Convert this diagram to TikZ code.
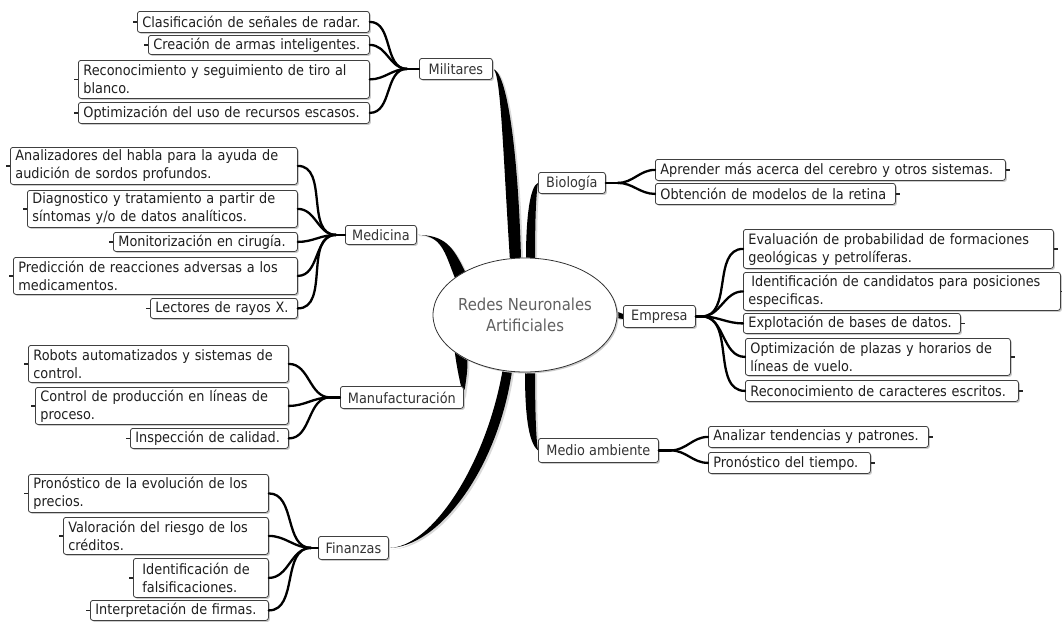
\documentclass[tikz,border=0pt]{standalone}
\usepackage{fontspec}
\setmainfont{DejaVu Sans}[FakeStretch=0.9]
\usetikzlibrary{shapes.geometric,calc,shadows,backgrounds}
\begin{document}
\begin{tikzpicture}[x=1pt,y=1pt,
  box/.style={draw=black!75, line width=0.8pt, rounded corners=2.5pt, fill=white,
    drop shadow={shadow xshift=1.5pt,shadow yshift=-1.5pt,fill=black!20,opacity=1},
    inner xsep=5pt, inner ysep=0pt, anchor=north west,
    font=\fontsize{14.3pt}{18pt}\selectfont},
  leaf/.style={box, align=left, text=black!88},
  cat/.style={box, align=center, text=black!80, inner xsep=2pt},
  branch/.style={line width=2.3pt, black, line cap=round},
  trunk/.style={fill=black, preaction={fill=black!15, transform canvas={xshift=2pt, yshift=-1.5pt}}},
  stub/.style={line width=1.4pt, black!85},
  hub/.style={ellipse, draw=black!80, line width=0.8pt, fill=white, inner sep=0pt,
    minimum width=184pt, minimum height=114pt,
    drop shadow={shadow xshift=1.5pt,shadow yshift=-1.5pt,fill=black!20,opacity=1}},
  hubtext/.style={align=center, text=black!62, font=\fontsize{16.5pt}{21pt}\selectfont},
]
\useasboundingbox (0,0) rectangle (1062,-621);

% central node
\node[hub] (ell) at (525,-315) {};
\node[hubtext] (elltext) at (ell.center) {Redes Neuronales\\Artificiales};

% ---- Militares ----
\node[cat, minimum width=73pt, minimum height=21pt] (mil) at (419,-58) {Militares};
\node[leaf, text width=222pt, minimum height=21pt] (clas) at (137,-11) {Clasificación de señales de radar.};
\node[leaf, text width=211pt, minimum height=19pt] (crea) at (148,-35) {Creación de armas inteligentes.};
\node[leaf, text width=281pt, minimum height=38pt] (reco) at (78,-60) {Reconocimiento y seguimiento de tiro al\\blanco.};
\node[leaf, text width=281pt, minimum height=21pt] (opti) at (78,-102) {Optimización del uso de recursos escasos.};

% ---- Medicina ----
\node[cat, minimum width=71pt, minimum height=19pt] (med) at (345,-225) {Medicina};
\node[leaf, text width=277pt, minimum height=37pt] (anal) at (10,-147) {Analizadores del habla para la ayuda de\\audición de sordos profundos.};
\node[leaf, text width=260pt, minimum height=37pt] (diag) at (27,-190) {Diagnostico y tratamiento a partir de\\síntomas y/o de datos analíticos.};
\node[leaf, text width=174pt, minimum height=19pt] (moni) at (113,-232) {Monitorización en cirugía.};
\node[leaf, text width=274pt, minimum height=37pt] (pred) at (13,-257) {Predicción de reacciones adversas a los\\medicamentos.};
\node[leaf, text width=137pt, minimum height=20pt] (lect) at (150,-298) {Lectores de rayos X.};

% ---- Manufacturacion ----
\node[cat, minimum width=123pt, minimum height=22pt] (manu) at (340,-386) {Manufacturación};
\node[leaf, text width=250pt, minimum height=37pt] (robo) at (28,-345) {Robots automatizados y sistemas de\\control.};
\node[leaf, text width=243pt, minimum height=37pt] (cont) at (35,-387) {Control de producción en líneas de\\proceso.};
\node[leaf, text width=148pt, minimum height=20pt] (insp) at (130,-428) {Inspección de calidad.};

% ---- Finanzas ----
\node[cat, minimum width=70pt, minimum height=23pt] (fin) at (318,-536) {Finanzas};
\node[leaf, text width=230pt, minimum height=38pt] (pron) at (28,-474) {Pronóstico de la evolución de los\\precios.};
\node[leaf, text width=195pt, minimum height=37pt] (valo) at (63,-517) {Valoración del riesgo de los\\créditos.};
\node[leaf, inner xsep=9pt, text width=117pt, minimum height=39pt] (iden) at (133,-558) {Identificación de\\falsificaciones.};
\node[leaf, text width=168pt, minimum height=20pt] (inte) at (90,-600) {Interpretación de firmas.};

% ---- Biologia ----
\node[cat, minimum width=67pt, minimum height=21pt] (bio) at (538,-172) {Biología};
\node[leaf, text width=340pt, minimum height=21pt] (apre) at (655,-159) {Aprender más acerca del cerebro y otros sistemas.};
\node[leaf, text width=230pt, minimum height=21pt] (obte) at (655,-183) {Obtención de modelos de la retina};

% ---- Empresa ----
\node[cat, minimum width=72pt, minimum height=22pt] (emp) at (623,-305) {Empresa};
\node[leaf, text width=300pt, minimum height=39pt] (eval) at (743,-229) {Evaluación de probabilidad de formaciones\\geológicas y petrolíferas.};
\node[leaf, text width=307pt, minimum height=38pt] (idca) at (743,-272) {\hspace*{3pt}Identificación de candidatos para posiciones\\especificas.};
\node[leaf, text width=207pt, minimum height=20pt] (expl) at (743,-313) {Explotación de bases de datos.};
\node[leaf, text width=255pt, minimum height=37pt] (opla) at (745,-338) {Optimización de plazas y horarios de\\líneas de vuelo.};
\node[leaf, text width=263pt, minimum height=21pt] (reca) at (745,-380) {Reconocimiento de caracteres escritos.};

% ---- Medio ambiente ----
\node[cat, minimum width=120pt, minimum height=24pt] (ma) at (538,-438) {Medio ambiente};
\node[leaf, text width=210pt, minimum height=21pt] (anali) at (708,-426) {Analizar tendencias y patrones.};
\node[leaf, text width=152pt, minimum height=21pt] (prti) at (708,-452) {Pronóstico del tiempo.};

% ---- trunks (behind nodes) ----
\begin{scope}[on background layer]
\fill[trunk] (mil.east) .. controls +(8,-1) and +(-7,108) .. (ell.105) -- (ell.94) .. controls +(-3,108) and +(14,-2) .. (mil.east) -- cycle;
\fill[trunk] (bio.west) .. controls +(-8,-3) and +(0,40) .. (ell.89) -- (ell.80) .. controls +(0,40) and +(-2,-12) .. (bio.west) -- cycle;
\fill[trunk] (med.east) .. controls +(25,0) and +(-10,25) .. (ell.152) -- (ell.144) .. controls +(-12,25) and +(28,0) .. (med.east) -- cycle;
\fill[trunk] (manu.east) .. controls +(-4,15) and +(2,-15) .. (ell.208) -- (ell.218) .. controls +(0,-15) and +(2,18) .. (manu.east) -- cycle;
\fill[trunk] (fin.east) .. controls +(48,0) and +(-15,-100) .. (ell.257) -- (ell.248) .. controls +(-17,-96) and +(42,0) .. (fin.east) -- cycle;
\fill[trunk] (ma.west) .. controls +(-10,8) and +(0,-40) .. (ell.270) -- (ell.280) .. controls +(0,-40) and +(-2,12) .. (ma.west) -- cycle;
\fill[trunk] (ell.2) -- ($(emp.west)+(0,2.5)$) -- ($(emp.west)+(0,-2.5)$) -- (ell.-2) -- cycle;
\end{scope}

% ---- junctions and branches ----
\coordinate (milj) at ($(mil.west)+(-12,0)$);
\coordinate (medj) at ($(med.west)+(-9,0)$);
\coordinate (manuj) at ($(manu.west)+(-10,0)$);
\coordinate (finj) at ($(fin.west)+(-7,0)$);
\coordinate (bioj) at ($(bio.east)+(12,0)$);
\coordinate (empj) at ($(emp.east)+(6,0)$);
\coordinate (maj) at ($(ma.east)+(12,0)$);

\draw[branch] (milj) -- (mil.west);
\foreach \n in {clas,crea,reco,opti} \draw[branch] (\n.east) to[out=0,in=180] (milj);
\draw[branch] (medj) -- (med.west);
\foreach \n in {anal,diag,moni,pred,lect} \draw[branch] (\n.east) to[out=0,in=180] (medj);
\draw[branch] (manuj) -- (manu.west);
\foreach \n in {robo,cont,insp} \draw[branch] (\n.east) to[out=0,in=180] (manuj);
\draw[branch] (finj) -- (fin.west);
\foreach \n in {pron,valo,iden,inte} \draw[branch] (\n.east) to[out=0,in=180] (finj);

\draw[branch] (bio.east) -- (bioj);
\foreach \n in {apre,obte} \draw[branch] (bioj) to[out=0,in=180] (\n.west);
\draw[branch] (emp.east) -- (empj);
\foreach \n in {eval,idca,expl,opla,reca} \draw[branch] (empj) to[out=0,in=180] (\n.west);
\draw[branch] (ma.east) -- (maj);
\foreach \n in {anali,prti} \draw[branch] (maj) to[out=0,in=180] (\n.west);

% ---- stubs ----
\foreach \n in {clas,crea,reco,opti,anal,diag,moni,pred,lect,robo,cont,insp,pron,valo,iden,inte}
  \draw[stub] (\n.west) -- ++(-4,0);
\foreach \n in {apre,obte,eval,idca,expl,opla,reca,anali,prti}
  \draw[stub] (\n.east) -- ++(4,0);
\end{tikzpicture}
\end{document}
